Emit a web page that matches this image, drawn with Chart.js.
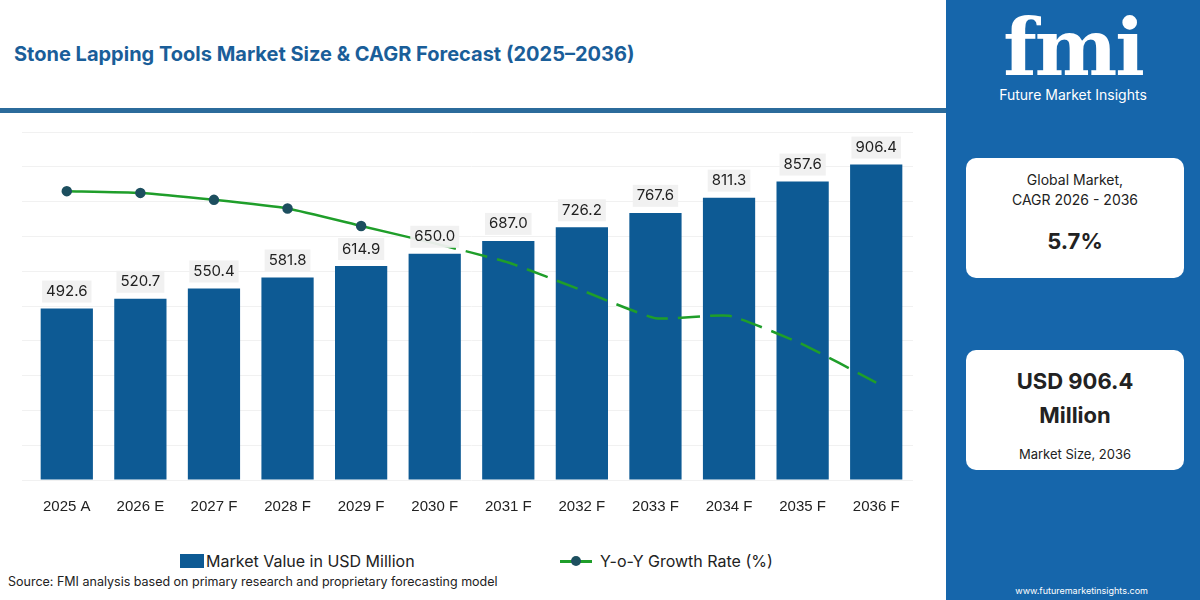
<!DOCTYPE html>
<html><head><meta charset="utf-8">
<script src="https://cdn.jsdelivr.net/npm/chart.js@4.4.1/dist/chart.umd.min.js"></script>
<style>
body{margin:0;width:1200px;height:600px;overflow:hidden;font-family:Inter,"Noto Sans",sans-serif;background:#fff;position:relative}
#title{position:absolute;left:14px;top:42px;font-size:20px;font-weight:700;color:#1a5e99}
#rule{position:absolute;left:0;top:108px;width:946px;height:5px;background:#2b6b9b}
#wrap{position:absolute;left:0;top:118px;width:940px;height:410px}
#right{position:absolute;left:946px;top:0;width:254px;height:600px;background:#1666ab}
.box{position:absolute;left:20px;width:218px;background:#fff;border-radius:10px;text-align:center;color:#222}
#legend{position:absolute;top:551px;left:0;width:946px;font-size:16px;color:#222}
#src{position:absolute;left:8px;top:574px;font-size:12.5px;color:#222}
</style></head><body>
<div id="title">Stone Lapping Tools Market Size &amp; CAGR Forecast (2025–2036)</div>
<div id="rule"></div>
<div id="wrap"><canvas id="c"></canvas></div>
<div id="legend">
<span style="position:absolute;left:180px;top:3px;width:24px;height:14px;background:#0d5a94"></span><span style="position:absolute;left:206px;top:0">Market Value in USD Million</span>
<span style="position:absolute;left:560px;top:9px;width:32px;height:3px;background:#1f9e2a"></span><span style="position:absolute;left:571px;top:5px;width:10px;height:10px;border-radius:5px;background:#1d4f5f"></span><span style="position:absolute;left:600px;top:0">Y-o-Y Growth Rate (%)</span>
</div>
<div id="src">Source: FMI analysis based on primary research and proprietary forecasting model</div>
<div id="right">
<div style="position:absolute;left:0;width:254px;top:8px;text-align:center;color:#fff;font:700 78px 'DejaVu Serif',serif;letter-spacing:-2px;line-height:80px">fmi</div>
<div style="position:absolute;left:0;width:254px;top:86px;text-align:center;color:#fff;font-size:14px">Future Market Insights</div>
<div class="box" style="top:158px;height:120px"><div style="margin-top:12px;font-size:14px;line-height:20px">Global Market,<br>CAGR 2026 - 2036</div><div style="margin-top:18px;font-size:22px;font-weight:700">5.7%</div></div>
<div class="box" style="top:350px;height:120px"><div style="margin-top:14px;font-size:22px;font-weight:700;line-height:34px">USD 906.4<br>Million</div><div style="margin-top:14px;font-size:13px">Market Size, 2036</div></div>
<div style="position:absolute;right:52px;top:585px;color:#fff;font-size:9px">www.futuremarketinsights.com</div>
</div>
<script>
const categories=["2025 A","2026 E","2027 F","2028 F","2029 F","2030 F","2031 F","2032 F","2033 F","2034 F","2035 F","2036 F"];
const marketValues=[492.6,520.7,550.4,581.8,614.9,650.0,687.0,726.2,767.6,811.3,857.6,906.4];
const growthRates=[8.3,8.25,8.05,7.8,7.3,6.8,6.25,5.45,4.65,4.72,3.9,2.8];
const labelPlugin={id:'lbl',afterDatasetsDraw(ch){
  const ctx=ch.ctx;const meta=ch.getDatasetMeta(0);
  ctx.save();ctx.font='15px Inter, sans-serif';ctx.textAlign='center';ctx.textBaseline='middle';
  meta.data.forEach((b,i)=>{const t=marketValues[i].toFixed(1);const w=ctx.measureText(t).width+8;
    ctx.fillStyle='rgba(240,240,240,0.95)';ctx.fillRect(b.x-w/2,b.y-28,w,22);
    ctx.fillStyle='#222';ctx.fillText(t,b.x,b.y-17);});
  ctx.restore();}};
new Chart(document.getElementById('c'),{
 data:{labels:categories,datasets:[
  {type:'bar',label:'Market Value in USD Million',data:marketValues,backgroundColor:'#0d5a94',categoryPercentage:0.71,barPercentage:1,order:2},
  {type:'line',label:'Y-o-Y Growth Rate (%)',data:growthRates,yAxisID:'y2',borderColor:'#1f9e2a',borderWidth:2.5,tension:0.15,
   pointRadius:[4,4,4,4,4,0,0,0,0,0,0,0],pointBackgroundColor:'#1d4f5f',pointBorderColor:'#1d4f5f',order:1,
   segment:{borderDash:c=>c.p0DataIndex>=5?[22,10]:undefined}}]},
 options:{responsive:true,maintainAspectRatio:false,animation:false,
  layout:{padding:{left:22,right:27,top:14,bottom:2}},
  plugins:{legend:{display:false},tooltip:{enabled:false}},
  scales:{x:{grid:{display:false},border:{display:false},ticks:{color:'#222',font:{size:15},padding:10}},
   y:{min:0,max:1000,ticks:{display:false,stepSize:100},grid:{color:'#f1f1f1'},border:{display:false}},
   y2:{display:false,min:0,max:10}}},
 plugins:[labelPlugin]});
</script></body></html>
